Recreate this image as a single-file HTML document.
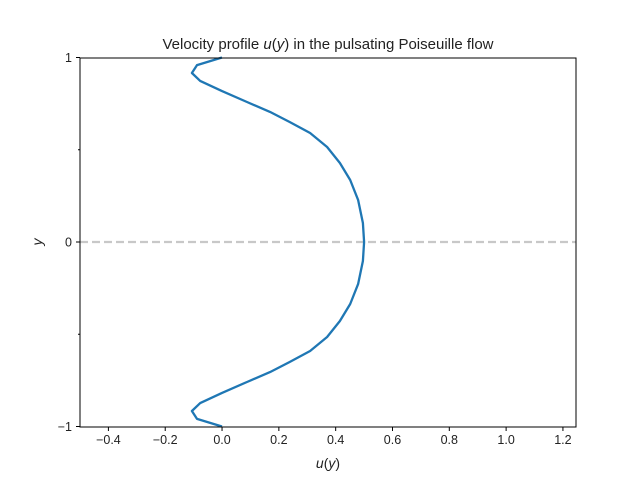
<!DOCTYPE html>
<html><head><meta charset="utf-8"><style>
body{margin:0;background:#fff;}
svg text{font-family:"Liberation Sans",sans-serif;fill:#222;}
</style></head><body>
<svg id="chart" width="640" height="480" xmlns="http://www.w3.org/2000/svg">
<rect width="640" height="480" fill="#fff"/>
<text x="328" y="49" font-size="15" text-anchor="middle">Velocity profile <tspan font-style="italic">u</tspan>(<tspan font-style="italic">y</tspan>) in the pulsating Poiseuille flow</text>
<g id="grid"></g>
<g id="series"></g>
<rect x="80" y="58" width="496" height="369" fill="none" stroke="#000" stroke-width="1"/>
<g id="axes"></g>
<text x="328" y="468" font-size="14" text-anchor="middle"><tspan font-style="italic">u</tspan>(<tspan font-style="italic">y</tspan>)</text>
<text x="42" y="242" font-size="14" font-style="italic" text-anchor="middle" transform="rotate(-90 42 242)">y</text>
</svg>
<script>
const uValues=[0,-0.088,-0.106,-0.077,0,0.088,0.169,0.239,0.31,0.37,0.415,0.451,0.479,0.496,0.5,0.496,0.479,0.451,0.415,0.37,0.31,0.239,0.169,0.088,0,-0.077,-0.106,-0.088,0];
const yValues=[1,0.959,0.916,0.873,0.818,0.759,0.705,0.65,0.591,0.515,0.428,0.336,0.228,0.103,0,-0.103,-0.228,-0.336,-0.428,-0.515,-0.591,-0.65,-0.705,-0.759,-0.818,-0.873,-0.916,-0.959,-1];
const xTicks=[-0.4,-0.2,0,0.2,0.4,0.6,0.8,1.0,1.2];
const xTickLabels=["\u22120.4","\u22120.2","0.0","0.2","0.4","0.6","0.8","1.0","1.2"];
const yTicks=[1,0,-1];
const yTickLabels=["1","0","\u22121"];
const yMinorTicks=[0.5,-0.5];
const X=v=>80+(v+0.5)/1.746*496;
const Y=v=>242-v*184.5;
const NS="http://www.w3.org/2000/svg";
function mk(tag,attrs,parent){const e=document.createElementNS(NS,tag);for(const k in attrs)e.setAttribute(k,attrs[k]);parent.appendChild(e);return e;}
const grid=document.getElementById('grid'),series=document.getElementById('series'),axes=document.getElementById('axes');
const zl=mk('line',{x1:80,x2:576,y1:Y(0),y2:Y(0),stroke:'#c8c8c8','stroke-width':2.2,'stroke-dasharray':'8,4'},grid);


const d=uValues.map((u,i)=>(i?'L':'M')+X(u).toFixed(1)+','+Y(yValues[i]).toFixed(1)).join(' ');
const p=mk('path',{d:d,fill:'none',stroke:'#1f77b4','stroke-width':2.3,'stroke-linejoin':'round'},series);


xTicks.forEach((v,i)=>{
 const t=mk('line',{x1:X(v),x2:X(v),y1:427,y2:431,stroke:'#000'},axes);
 
 
 const l=mk('text',{x:X(v),y:444,'font-size':12.5,'text-anchor':'middle'},axes);
 l.textContent=xTickLabels[i];
 
 
});
yTicks.forEach((v,i)=>{
 const t=mk('line',{x1:76,x2:80,y1:Y(v),y2:Y(v),stroke:'#000'},axes);
 
 
 const l=mk('text',{x:72,y:Y(v)+4.5,'font-size':12.5,'text-anchor':'end'},axes);
 l.textContent=yTickLabels[i];
 
 
});
yMinorTicks.forEach(v=>{
 const t=mk('line',{x1:78,x2:80,y1:Y(v),y2:Y(v),stroke:'#000'},axes);
 
 
});
</script>
</body></html>
